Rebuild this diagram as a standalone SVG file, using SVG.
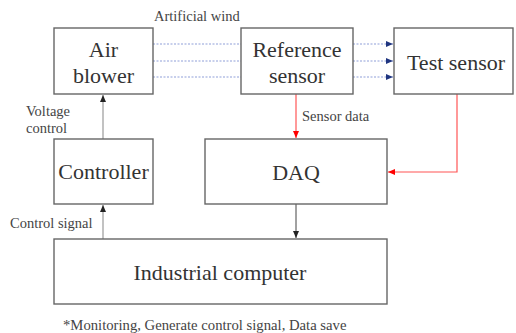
<svg xmlns="http://www.w3.org/2000/svg" width="516" height="333" viewBox="0 0 516 333">
  <style>
    .box { fill: #fff; stroke: #666; stroke-width: 1.4; }
    .wind { stroke: #8f9fd8; stroke-width: 1; stroke-dasharray: 2 1.5; fill: none; }
    .gray { stroke: #999; stroke-width: 1.2; fill: none; }
    .blk { stroke: #444; stroke-width: 1; fill: none; }
    .red { stroke: #f55; stroke-width: 1.2; fill: none; }
  </style>
  <defs>
    <marker id="ahBlack" markerWidth="8" markerHeight="8" refX="7" refY="4" orient="auto" markerUnits="userSpaceOnUse">
      <path d="M0,1 L7,4 L0,7 Z" fill="#222"/>
    </marker>
    <marker id="ahNavy" markerWidth="8" markerHeight="8" refX="7" refY="4" orient="auto" markerUnits="userSpaceOnUse">
      <path d="M0,1 L7,4 L0,7 Z" fill="#1f3580"/>
    </marker>
    <marker id="ahRed" markerWidth="8" markerHeight="8" refX="7" refY="4" orient="auto" markerUnits="userSpaceOnUse">
      <path d="M0,1 L7,4 L0,7 Z" fill="#f00"/>
    </marker>
  </defs>
  <rect width="516" height="333" fill="#fff"/>

  <g id="connectors">
    <!-- artificial wind: blower to reference sensor -->
    <line class="wind" x1="153" y1="44" x2="241" y2="44"/>
    <line class="wind" x1="153" y1="61" x2="241" y2="61"/>
    <line class="wind" x1="153" y1="77" x2="241" y2="77"/>
    <!-- reference sensor to test sensor -->
    <line class="wind" x1="353" y1="44" x2="393" y2="44" marker-end="url(#ahNavy)"/>
    <line class="wind" x1="353" y1="61" x2="393" y2="61" marker-end="url(#ahNavy)"/>
    <line class="wind" x1="353" y1="77" x2="393" y2="77" marker-end="url(#ahNavy)"/>
    <!-- controller to air blower -->
    <line class="gray" x1="103" y1="139" x2="103" y2="95" marker-end="url(#ahBlack)"/>
    <!-- industrial computer to controller -->
    <line class="gray" x1="103" y1="239" x2="103" y2="205" marker-end="url(#ahBlack)"/>
    <!-- reference sensor to DAQ -->
    <line class="red" x1="296" y1="94" x2="296" y2="138" marker-end="url(#ahRed)"/>
    <!-- test sensor to DAQ -->
    <polyline class="red" points="457,94 457,172 388,172" marker-end="url(#ahRed)"/>
    <!-- DAQ to industrial computer -->
    <line class="blk" x1="296" y1="204" x2="296" y2="238" marker-end="url(#ahBlack)"/>
  </g>

  <g font-family="'Liberation Serif', 'Times New Roman', serif" font-size="22" fill="#333" text-anchor="middle">
    <g id="air-blower">
      <rect class="box" x="54" y="28" width="99" height="66"/>
      <text x="103.5" y="57">Air</text>
      <text x="103.5" y="82.5">blower</text>
    </g>
    <g id="reference-sensor">
      <rect class="box" x="241" y="28" width="112" height="66"/>
      <text x="297" y="57">Reference</text>
      <text x="297" y="82.5">sensor</text>
    </g>
    <g id="test-sensor">
      <rect class="box" x="394" y="28" width="119" height="66"/>
      <text x="456" y="70">Test sensor</text>
    </g>
    <g id="controller">
      <rect class="box" x="54" y="139" width="99" height="65"/>
      <text x="103.5" y="179">Controller</text>
    </g>
    <g id="daq">
      <rect class="box" x="205" y="139" width="182" height="65"/>
      <text x="296" y="180">DAQ</text>
    </g>
    <g id="industrial-computer">
      <rect class="box" x="54" y="239" width="333" height="65"/>
      <text x="220" y="280">Industrial computer</text>
    </g>
  </g>

  <g id="labels" font-family="'Liberation Serif', 'Times New Roman', serif" font-size="14.5" fill="#444">
    <text x="154" y="21">Artificial wind</text>
    <text x="26" y="116">Voltage</text>
    <text x="26" y="132.5">control</text>
    <text x="10" y="228">Control signal</text>
    <text x="302" y="120.5">Sensor data</text>
    <text x="63" y="330" font-size="14.7">*Monitoring, Generate control signal, Data save</text>
  </g>
</svg>
